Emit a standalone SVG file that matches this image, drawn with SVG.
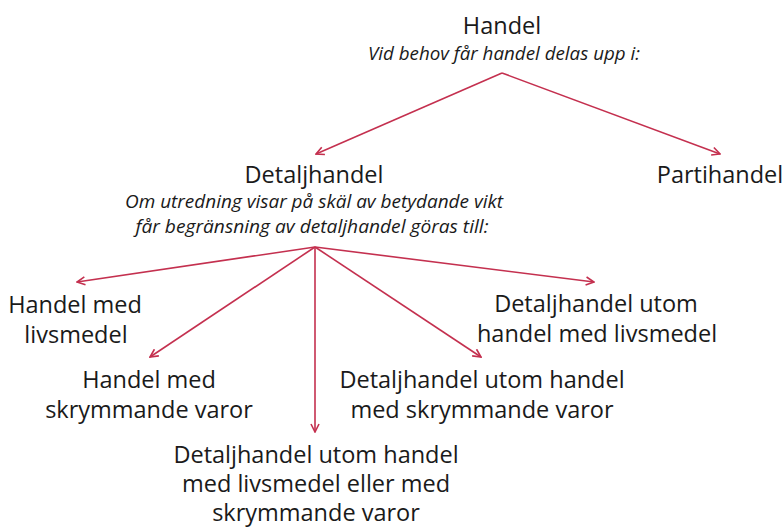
<svg xmlns="http://www.w3.org/2000/svg" width="783" height="529" viewBox="0 0 783 529">
<style>
.t{font-family:"Open Sans","Noto Sans","DejaVu Sans",sans-serif;font-size:23.5px;fill:#1a1a1a;text-anchor:middle}
.i{font-family:"Open Sans","Noto Sans","DejaVu Sans",sans-serif;font-size:17.5px;font-style:italic;fill:#1a1a1a;text-anchor:middle}
.c{stroke:#c4304f;stroke-width:1.6;fill:none;marker-end:url(#ah)}
</style>
<defs>
<marker id="ah" viewBox="0 0 10 10" refX="9" refY="5" markerWidth="10" markerHeight="10" markerUnits="userSpaceOnUse" orient="auto">
<path d="M1,1 L9,5 L1,9" fill="none" stroke="#c4304f" stroke-width="1.6"/>
</marker>
</defs>
<rect width="783" height="529" fill="#ffffff"/>
<g id="connectors">
<path class="c" d="M502,73 L316,154"/>
<path class="c" d="M502,73 L720,154"/>
<path class="c" d="M315,247 L77,282"/>
<path class="c" d="M315,247 L150,357"/>
<path class="c" d="M315,247 L315,432"/>
<path class="c" d="M315,247 L481,357"/>
<path class="c" d="M315,247 L594,282"/>
</g>
<g id="handel">
<text class="t" x="502" y="34">Handel</text>
<text class="i" x="504" y="60" textLength="272" lengthAdjust="spacingAndGlyphs">Vid behov får handel delas upp i:</text>
</g>
<g id="detaljhandel">
<text class="t" x="314" y="183">Detaljhandel</text>
<text class="i" x="314" y="208" textLength="378" lengthAdjust="spacingAndGlyphs">Om utredning visar på skäl av betydande vikt</text>
<text class="i" x="312" y="233" textLength="353" lengthAdjust="spacingAndGlyphs">får begränsning av detaljhandel göras till:</text>
</g>
<g id="partihandel">
<text class="t" x="720" y="183">Partihandel</text>
</g>
<g id="livsmedel">
<text class="t" x="75" y="313">Handel med</text>
<text class="t" x="76" y="343">livsmedel</text>
</g>
<g id="utom-livsmedel">
<text class="t" x="596" y="312">Detaljhandel utom</text>
<text class="t" x="597" y="342">handel med livsmedel</text>
</g>
<g id="skrymmande">
<text class="t" x="149" y="388">Handel med</text>
<text class="t" x="149" y="418">skrymmande varor</text>
</g>
<g id="utom-skrymmande">
<text class="t" x="482" y="388">Detaljhandel utom handel</text>
<text class="t" x="482" y="418">med skrymmande varor</text>
</g>
<g id="utom-bada">
<text class="t" x="316" y="463">Detaljhandel utom handel</text>
<text class="t" x="316" y="492">med livsmedel eller med</text>
<text class="t" x="316" y="521">skrymmande varor</text>
</g>
</svg>
